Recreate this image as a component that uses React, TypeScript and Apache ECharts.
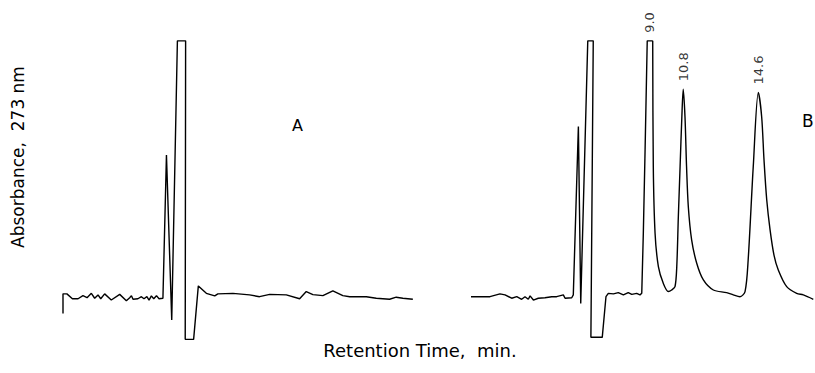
import React, { useEffect, useRef } from "react";
import * as echarts from "echarts";

// Panel A (blank) – retention time (min) and absorbance (relative, off-scale = 100)
const timesA = [0, 0, 0.2, 0.48, 0.77, 1.02, 1.23, 1.45, 1.62, 1.79, 1.93, 2.13, 2.47, 2.9, 3.24, 3.41, 3.5, 3.58, 3.83, 4.01, 4.14, 4.29, 4.4, 4.52, 4.64, 4.78, 4.91, 5.11, 5.29, 5.56, 5.85, 6.27, 6.25, 6.68, 6.92, 7.33, 7.76, 7.92, 8.69, 9.54, 10.05, 10.57, 11.42, 12.1, 12.44, 12.78, 13.29, 13.8, 14.31, 14.66, 15.51, 16.02, 16.7, 17.04, 17.38, 17.89];
const absorbA = [-6, 1.6, 1.6, -0.3, -0.3, 0.9, 0.1, 1.8, -0.1, 1.2, -0.3, 1.6, -0.8, 1.4, -1.1, 0.1, 0.9, -0.5, -0.3, 0.5, -0.3, 0.5, -0.8, 0.8, -0.3, 0.9, -0.3, -0.1, 55.6, -8.6, 100, 100, -16.1, -16.1, 4.7, 1.8, 0.8, 1.6, 1.8, 1.2, 0.5, 1.4, 1.2, -0.3, 2.5, 1.3, 0.9, 2.8, 0.9, 0.5, 0.5, -0.1, -0.5, 0.3, -0.1, -0.5];

// Panel B (sample)
const timesB = [0, 0.97, 1.48, 1.74, 2.08, 2.34, 2.59, 2.76, 2.93, 3.02, 3.19, 3.44, 3.78, 4.13, 4.38, 4.72, 4.81, 5.15, 5.23, 5.49, 5.61, 5.97, 6.25, 6.13, 6.71, 6.9, 7.02, 7.28, 7.53, 7.79, 8.04, 8.22, 8.47, 8.64, 8.73, 8.81, 8.9, 9.01, 9.29, 9.32, 9.41, 9.58, 9.83, 10.09, 10.26, 10.43, 10.52, 10.6, 10.69, 10.78, 10.85, 10.94, 11.02, 11.11, 11.28, 11.54, 11.88, 12.39, 13.07, 13.41, 13.75, 14.01, 14.17, 14.43, 14.69, 14.86, 14.98, 15.12, 15.29, 15.49, 15.71, 16.14, 16.65, 16.99, 17.5];
const absorbB = [0.5, 0.5, 1.6, 1.2, -0.1, 0.5, -0.5, 0.5, -0.5, 0.8, -0.8, -0.1, 0.1, 0.5, 0.5, 1.2, -0.1, 0.1, 1.2, 66.7, -2.1, 100, 100, -15.3, -15.3, 0.5, 1.8, 1.6, 2.1, 1.2, 2.1, 1.4, 1.8, 1.2, 1.8, 25.2, 57.6, 100, 100, 51.1, 25.2, 12.2, 5.7, 2.5, 3.1, 4.4, 12.2, 31.6, 51.1, 70.5, 81.2, 70.5, 51.1, 35.5, 22.6, 13.5, 7.0, 3.1, 2.1, 1.2, 0.5, 2.5, 14.8, 51.1, 79.9, 70.5, 53.7, 38.1, 26.5, 16.7, 10.9, 4.4, 1.8, 1.2, -0.5];

// Peak annotations in panel B
const peakTimes = [9.15, 10.85, 14.69];
const peakHeights = [100, 81.2, 79.9];
const peakLabels = ["9.0", "10.8", "14.6"];

const panelLabels = ["A", "B"];
const yTitle = "Absorbance,  273 nm";
const xTitle = "Retention Time,  min.";

const FONT = "DejaVu Sans";

export default function App() {
  const ref = useRef<HTMLDivElement>(null);

  useEffect(() => {
    if (!ref.current) return;
    const chart = echarts.init(ref.current, null, { renderer: "svg" });

    const hiddenAxis = {
      show: true,
      axisLine: { show: false },
      axisTick: { show: false },
      axisLabel: { show: false },
      splitLine: { show: false },
    };

    const lineStyle = { color: "#000", width: 1.4 };

    const pairsB = timesB.map((t, i) => [t, absorbB[i]]);
    // the trace up to the end of the off-scale 9.0 peak top, drawn with sharp corners
    const splitIdx = timesB.indexOf(9.29);
    const traceB1 = pairsB.slice(0, splitIdx + 1);
    const traceB2 = pairsB.slice(splitIdx);

    const lineBase = {
      type: "line",
      showSymbol: false,
      symbol: "none",
      lineStyle,
      clip: false,
    };

    chart.setOption({
      animation: false,
      backgroundColor: "#ffffff",
      title: [
        {
          text: panelLabels[0],
          left: 292,
          top: 117,
          padding: 0,
          textStyle: { fontFamily: FONT, fontSize: 16, fontWeight: "normal", color: "#000" },
        },
        {
          text: panelLabels[1],
          left: 802,
          top: 112,
          padding: 0,
          textStyle: { fontFamily: FONT, fontSize: 17, fontWeight: "normal", color: "#000" },
        },
      ],
      grid: [
        { left: 63, top: 28, width: 352, height: 321.4 },
        { left: 471, top: 28, width: 342.3, height: 321.4 },
      ],
      xAxis: [
        { ...hiddenAxis, type: "value", gridIndex: 0, min: 0, max: 18 },
        { ...hiddenAxis, type: "value", gridIndex: 1, min: 0, max: 17.5 },
      ],
      yAxis: [
        { ...hiddenAxis, type: "value", gridIndex: 0, min: -20, max: 105 },
        { ...hiddenAxis, type: "value", gridIndex: 1, min: -20, max: 105 },
      ],
      series: [
        {
          ...lineBase,
          xAxisIndex: 0,
          yAxisIndex: 0,
          data: timesA.map((t, i) => [t, absorbA[i]]),
        },
        {
          ...lineBase,
          xAxisIndex: 1,
          yAxisIndex: 1,
          data: traceB1,
        },
        {
          ...lineBase,
          xAxisIndex: 1,
          yAxisIndex: 1,
          data: traceB2,
          smooth: 0.3,
        },
        {
          type: "scatter",
          xAxisIndex: 1,
          yAxisIndex: 1,
          symbolSize: 0,
          data: peakTimes.map((t, i) => [t, peakHeights[i]]),
          label: {
            show: true,
            position: "top",
            distance: 8,
            rotate: 90,
            align: "left",
            verticalAlign: "middle",
            fontFamily: FONT,
            fontSize: 13,
            color: "#000",
            formatter: (p: any) => peakLabels[p.dataIndex],
          },
        },
      ],
      graphic: [
        {
          type: "text",
          x: 18,
          y: 157,
          rotation: Math.PI / 2,
          style: {
            text: yTitle,
            align: "center",
            verticalAlign: "middle",
            fontFamily: FONT,
            fontSize: 17,
            fill: "#000",
          },
        },
        {
          type: "text",
          x: 420,
          y: 350,
          style: {
            text: xTitle,
            align: "center",
            verticalAlign: "middle",
            fontFamily: FONT,
            fontSize: 18,
            fill: "#000",
          },
        },
      ],
    });

    return () => chart.dispose();
  }, []);

  return (
    <div
      ref={ref}
      style={{ position: "absolute", left: 0, top: 0, width: 815, height: 373, background: "#fff" }}
    />
  );
}
